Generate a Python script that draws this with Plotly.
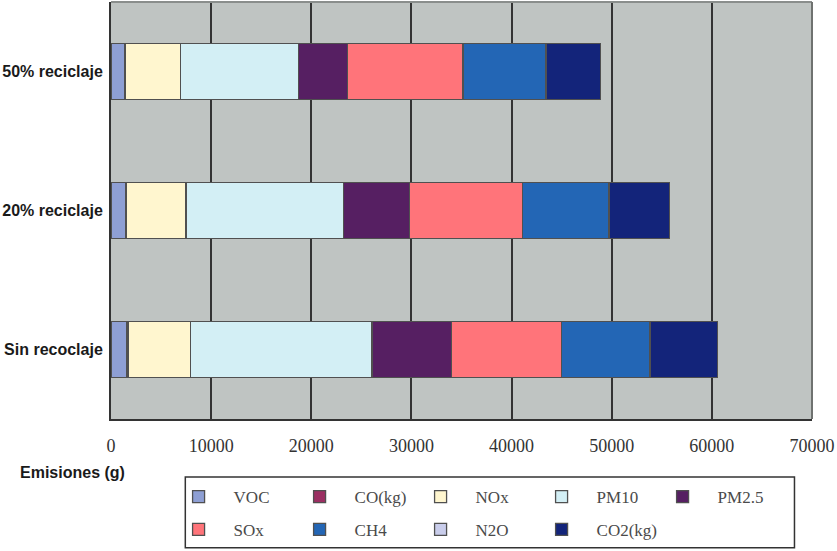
import plotly.graph_objects as go

# Escenarios (de abajo hacia arriba) y emisiones por contaminante, en g (CO y CO2 en kg)
escenarios = ["Sin recoclaje", "20% reciclaje", "50% reciclaje"]

contaminantes = ["VOC", "CO(kg)", "NOx", "PM10", "PM2.5", "SOx", "CH4", "N2O", "CO2(kg)"]

voc = [1570, 1470, 1330]
co_kg = [120, 80, 60]
nox = [6280, 5950, 5560]
pm10 = [18100, 15730, 11750]
pm25 = [7900, 6600, 4950]
sox = [11030, 11240, 11500]
ch4 = [8770, 8630, 8250]
n2o = [100, 90, 80]
co2_kg = [6700, 6010, 5370]

colores = ["#8E9FD4", "#9B2F62", "#FFF6CF", "#D3EFF5", "#561F62",
           "#FF747A", "#2366B5", "#C9CDEB", "#13247A"]

ticks_x = [0, 10000, 20000, 30000, 40000, 50000, 60000, 70000]

series = [voc, co_kg, nox, pm10, pm25, sox, ch4, n2o, co2_kg]

SERIF = "Times New Roman, Liberation Serif, serif"
SANS = "Arial, Liberation Sans, sans-serif"

fig = go.Figure()
for i, (nombre, valores, color) in enumerate(zip(contaminantes, series, colores)):
    fig.add_trace(go.Bar(
        y=escenarios,
        x=valores,
        name=nombre,
        orientation="h",
        marker=dict(color=color, line=dict(color="#505050", width=1.3)),
        legend="legend" if i < 5 else "legend2",
        legendwidth=90 if nombre == "CO2(kg)" else None,
    ))

leyenda_comun = dict(
    orientation="h",
    xanchor="left",
    yanchor="middle",
    x=0.075,
    bgcolor="rgba(0,0,0,0)",
    borderwidth=0,
    itemwidth=60,
    entrywidth=46,
    font=dict(family=SERIF, size=17, color="#4a4a4a"),
    traceorder="normal",
)

fig.update_layout(
    width=837,
    height=551,
    margin=dict(l=111, r=25, t=2, b=132, autoexpand=False),
    paper_bgcolor="white",
    plot_bgcolor="#BFC4C2",
    barmode="stack",
    bargap=0.6,
    showlegend=True,
    legend=dict(leyenda_comun, y=-0.187),
    legend2=dict(leyenda_comun, y=-0.266),
    xaxis=dict(
        range=[0, 70000],
        tickvals=ticks_x,
        ticktext=[str(v) for v in ticks_x],
        showgrid=True,
        gridcolor="#333333",
        gridwidth=1.5,
        zeroline=False,
        showline=True,
        linecolor="#333333",
        linewidth=2,
        ticks="",
        automargin=False,
        ticklabelstandoff=9,
        tickfont=dict(family=SERIF, size=18, color="#333333"),
    ),
    yaxis=dict(
        categoryorder="array",
        categoryarray=escenarios,
        showgrid=False,
        zeroline=False,
        showline=True,
        linecolor="#333333",
        linewidth=2,
        ticks="",
        automargin=False,
        ticklabelstandoff=3,
        tickfont=dict(family=SANS, size=16, color="#1a1a1a", weight="bold"),
    ),
    annotations=[
        dict(
            text="<b>Emisiones (g)</b>",
            xref="paper", yref="paper",
            x=-0.132, y=-0.128,
            xanchor="left", yanchor="middle",
            showarrow=False,
            font=dict(family=SANS, size=16, color="#1a1a1a"),
        )
    ],
    shapes=[
        # bordes superior y derecho del área de trazado
        dict(type="line", xref="paper", yref="paper", x0=0, x1=1, y0=1, y1=1,
             line=dict(color="#8A8E8C", width=2)),
        dict(type="line", xref="paper", yref="paper", x0=1, x1=1, y0=0, y1=1,
             line=dict(color="#6F7270", width=2)),
        # marco de la leyenda
        dict(type="rect", xref="paper", yref="paper",
             x0=0.106, x1=0.975, y0=-0.139, y1=-0.309,
             line=dict(color="#333333", width=1.5)),
    ],
)

fig.write_html("out.html")
